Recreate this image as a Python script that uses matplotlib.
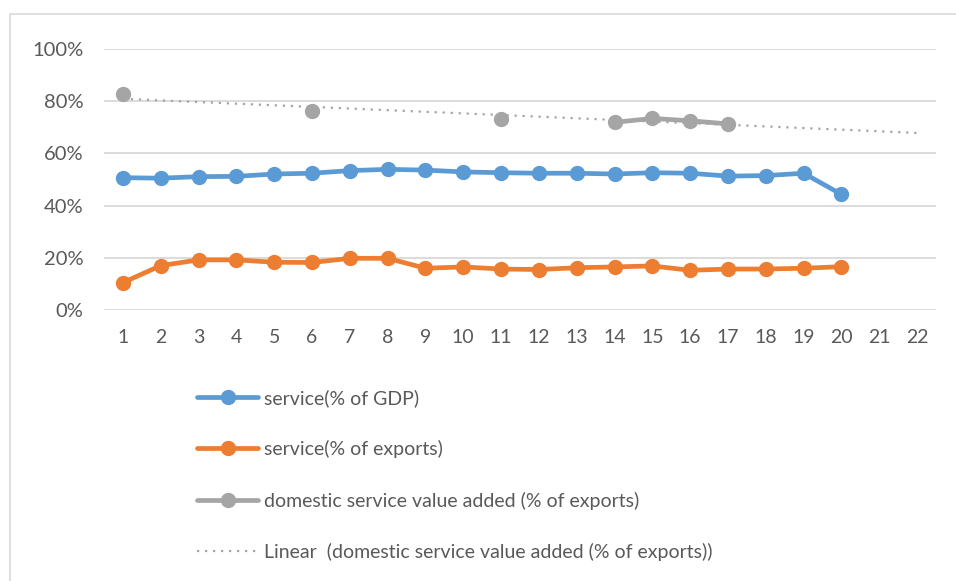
import numpy as np
import matplotlib
matplotlib.use("Agg")
import matplotlib.pyplot as plt
from matplotlib.patches import Rectangle

plt.rcParams['font.family'] = ['Lato', 'DejaVu Sans']

periods = list(range(1, 23))
service_gdp = [0.507, 0.505, 0.511, 0.512, 0.521, 0.524, 0.534, 0.539, 0.536, 0.529,
               0.526, 0.524, 0.524, 0.521, 0.526, 0.524, 0.513, 0.515, 0.524, 0.443]
service_exports = [0.105, 0.170, 0.192, 0.192, 0.183, 0.182, 0.198, 0.198, 0.160, 0.165,
                   0.157, 0.155, 0.162, 0.165, 0.169, 0.152, 0.157, 0.157, 0.160, 0.166]
dva_exports = [0.826, None, None, None, None, 0.762, None, None, None, None,
               0.731, None, None, 0.719, 0.734, 0.725, 0.713, None, None, None]
y_ticks = [0, 0.2, 0.4, 0.6, 0.8, 1.0]
y_ticklabels = ['0%', '20%', '40%', '60%', '80%', '100%']

labels = ['service(% of GDP)', 'service(% of exports)',
          'domestic service value added (% of exports)',
          'Linear  (domestic service value added (% of exports))']

BLUE = '#5B9BD5'
ORANGE = '#ED7D31'
GRAY = '#A5A5A5'
TEXT = '#595959'
GRID = '#D9D9D9'

W, H = 956, 581
fig = plt.figure(figsize=(W / 100, H / 100), dpi=100)

# chart border (left and top edges visible)
fig.patches.append(Rectangle((10 / W, -0.1), 1.2, (H - 14) / H + 0.1,
                             transform=fig.transFigure, fill=False,
                             edgecolor=GRID, linewidth=1.2))

ax = fig.add_axes([104 / W, (H - 310) / H, (936 - 104) / W, (310 - 49) / H])

x20 = np.arange(1, 21)
gdp = np.array(service_gdp, dtype=float)
exp_ = np.array(service_exports, dtype=float)
dva = np.array([np.nan if v is None else v for v in dva_exports], dtype=float)

lw = 3.4
ms = 10
l1, = ax.plot(x20, gdp, color=BLUE, lw=lw, marker='o', ms=ms, zorder=3,
              solid_capstyle='round', solid_joinstyle='round')
l2, = ax.plot(x20, exp_, color=ORANGE, lw=lw, marker='o', ms=ms, zorder=3,
              solid_capstyle='round', solid_joinstyle='round')
l3, = ax.plot(x20, dva, color=GRAY, lw=lw, marker='o', ms=ms, zorder=3,
              solid_capstyle='round', solid_joinstyle='round')

# linear trend of the value-added series, extended to the last period
mask = ~np.isnan(dva)
slope, intercept = np.polyfit(x20[mask], dva[mask], 1)
xt = np.array([1, 22], dtype=float)
l4, = ax.plot(xt, slope * xt + intercept, color=GRAY, lw=1.6,
              linestyle=(0, (1, 2.6)), zorder=4)

ax.set_xlim(0.5, 22.5)
ax.set_ylim(0, 1)
ax.set_xticks(periods)
ax.set_xticklabels([str(p) for p in periods])
ax.set_yticks(y_ticks)
ax.set_yticklabels(y_ticklabels)
ax.tick_params(axis='both', length=0, labelsize=14, labelcolor=TEXT)
ax.tick_params(axis='y', pad=15, labelsize=14.5)
ax.tick_params(axis='x', pad=14)
ax.grid(axis='y', color=GRID, lw=1.3)
ax.set_axisbelow(True)
for s in ax.spines.values():
    s.set_visible(False)

leg = fig.legend([l1, l2, l3, l4], labels, loc='upper left',
                 bbox_to_anchor=(197 / W, (H - 389) / H), frameon=False,
                 fontsize=14, labelcolor=TEXT, handlelength=3.15,
                 handletextpad=0.3, labelspacing=1.71, borderpad=0,
                 borderaxespad=0)

fig.savefig('out.png', dpi=100, facecolor='white')
